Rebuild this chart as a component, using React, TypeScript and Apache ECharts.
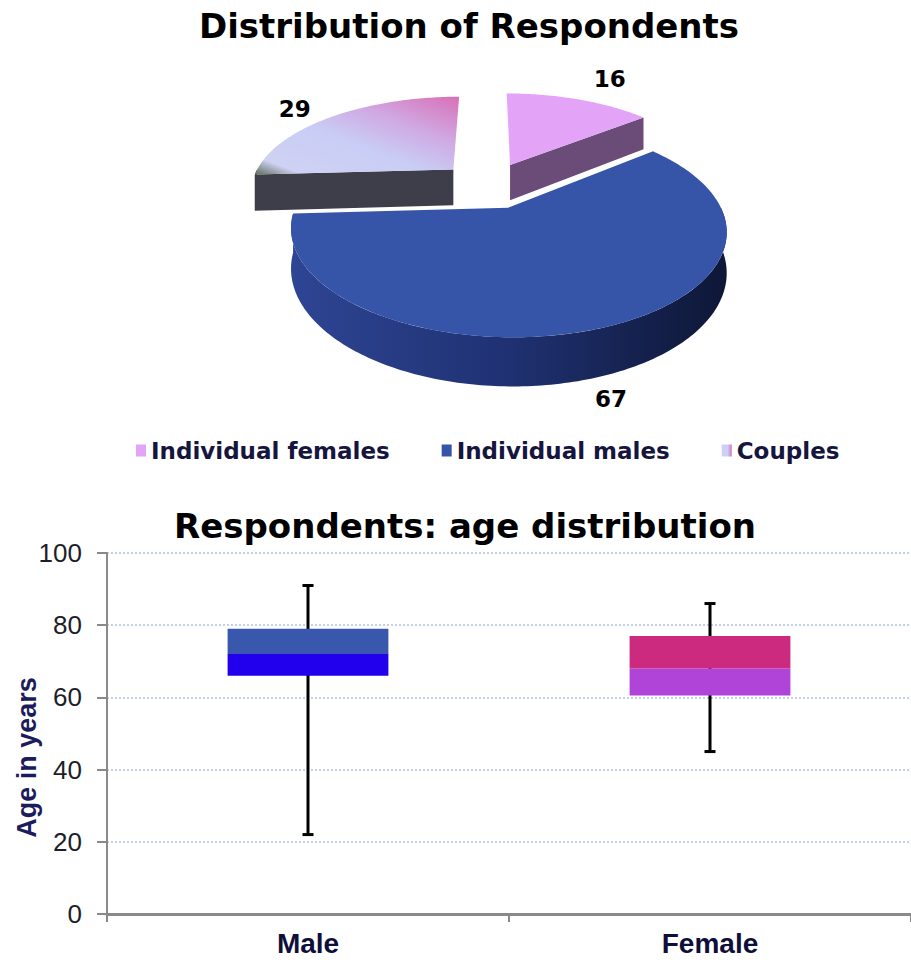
import React, { useEffect, useRef } from 'react';
import * as echarts from 'echarts';

// ---------- data ----------
const pieNames = ['Individual females', 'Individual males', 'Couples'];
const pieValues = [16, 67, 29];

const boxCategories = ['Male', 'Female'];
const boxMin = [22, 45];
const boxQ1 = [66, 60.5];
const boxMedian = [72, 68];
const boxQ3 = [79, 77];
const boxMax = [91, 86];

// ---------- styles ----------
const DEJAVU = '"DejaVu Sans", sans-serif';
const LIB = '"Liberation Sans", Arial, sans-serif';

const PIE = { x0: 489, y0: 185, sx: 203, sy: 93, k: 0.2, depth: 37, explode: 0.25 };

const couplesGradient = {
  type: 'linear', x: 1, y: 0, x2: 0, y2: 1,
  colorStops: [
    { offset: 0, color: '#d870b6' },
    { offset: 0.3, color: '#d0a8e2' },
    { offset: 0.55, color: '#c9ccf5' },
    { offset: 0.88, color: '#cfd2f3' },
    { offset: 1, color: '#5e6b58' },
  ],
};
const malesWallGradient = {
  type: 'linear', x: 0, y: 0, x2: 1, y2: 0,
  colorStops: [
    { offset: 0, color: '#2e4594' },
    { offset: 0.5, color: '#1f3172' },
    { offset: 1, color: '#0e1736' },
  ],
};
const sliceTopFill: any[] = ['#e3a4f7', '#3655a8', couplesGradient];
const sliceWallFill: any[] = ['#6b4c79', malesWallGradient, '#3e3e4b'];
const sliceLegendColor: any[] = [
  '#e3a4f7',
  '#3655a8',
  { type: 'linear', x: 0, y: 0, x2: 1, y2: 0, colorStops: [{ offset: 0, color: '#cdd0f6' }, { offset: 0.6, color: '#cdd0f6' }, { offset: 1, color: '#d070b8' }] },
];
// dx, dy, depth level of the anchor (0 top, 1 bottom)
const sliceLabelOffset = [[31, -21, 0], [4, 24, 1], [-37, -8, 0]];

const boxUpper = ['#3957ad', '#cc2a7e'];
const boxLower = ['#2200ee', '#b044d8'];

// ---------- geometry helpers ----------
const rad = (d: number) => (d * Math.PI) / 180;
function proj(u: number, w: number, z: number): number[] {
  const den = 1 + PIE.k * w;
  return [PIE.x0 + (PIE.sx * u) / den, PIE.y0 - (PIE.sy * w) / den + (PIE.depth * z) / den];
}
function sliceAngles(i: number) {
  const total = pieValues.reduce((a, b) => a + b, 0);
  let cum = 0;
  for (let j = 0; j < i; j++) cum += pieValues[j];
  const a0 = 90 - (cum / total) * 360;
  const a1 = a0 - (pieValues[i] / total) * 360;
  return { a0, a1, mid: (a0 + a1) / 2 };
}
function arcPoints(ou: number, ow: number, from: number, to: number, z: number) {
  const pts: number[][] = [];
  const n = Math.max(2, Math.ceil(Math.abs(to - from)));
  for (let s = 0; s <= n; s++) {
    const t = rad(from + ((to - from) * s) / n);
    pts.push(proj(ou + Math.cos(t), ow + Math.sin(t), z));
  }
  return pts;
}

function pieRender(i: number) {
  return (params: any, api: any) => {
    const value = api.value(0);
    const { a0, a1, mid } = sliceAngles(i);
    const ou = PIE.explode * Math.cos(rad(mid));
    const ow = PIE.explode * Math.sin(rad(mid));
    const children: any[] = [];
    // outer wall (front facing part)
    for (let kk = -1; kk <= 1; kk++) {
      const lo = Math.max(a1, -180 + 360 * kk);
      const hi = Math.min(a0, 0 + 360 * kk);
      if (hi - lo > 0.01) {
        const top = arcPoints(ou, ow, lo, hi, 0);
        const bot = arcPoints(ou, ow, hi, lo, 1);
        children.push({ type: 'polygon', shape: { points: top.concat(bot) }, style: { fill: sliceWallFill[i] } });
      }
    }
    // radial walls
    const edges = [
      { a: a0, n: a0 + 90 },
      { a: a1, n: a1 - 90 },
    ];
    edges.forEach((e) => {
      if (Math.sin(rad(e.n)) < -0.01) {
        const t = rad(e.a);
        const pts = [
          proj(ou, ow, 0),
          proj(ou + Math.cos(t), ow + Math.sin(t), 0),
          proj(ou + Math.cos(t), ow + Math.sin(t), 1),
          proj(ou, ow, 1),
        ];
        children.push({ type: 'polygon', shape: { points: pts }, style: { fill: sliceWallFill[i] } });
      }
    });
    // top face
    const topPts = [proj(ou, ow, 0)].concat(arcPoints(ou, ow, a0, a1, 0));
    children.push({ type: 'polygon', shape: { points: topPts }, style: { fill: sliceTopFill[i] } });
    // label
    const lo = sliceLabelOffset[i];
    const anchor = proj(ou + Math.cos(rad(mid)), ow + Math.sin(rad(mid)), lo[2]);
    children.push({
      type: 'text',
      x: anchor[0] + lo[0],
      y: anchor[1] + lo[1],
      style: {
        text: String(value),
        fill: '#000',
        fontSize: 23,
        fontWeight: 'bold',
        fontFamily: DEJAVU,
        align: 'center',
        verticalAlign: 'middle',
        textAlign: 'center',
        textVerticalAlign: 'middle',
      },
    });
    return { type: 'group', children };
  };
}

function boxRender(params: any, api: any) {
  const i = api.value(0);
  const band = api.size([1, 0])[0];
  const w = band * 0.4;
  const pMax = api.coord([i, api.value(5)]);
  const pQ3 = api.coord([i, api.value(4)]);
  const pMed = api.coord([i, api.value(3)]);
  const pQ1 = api.coord([i, api.value(2)]);
  const pMin = api.coord([i, api.value(1)]);
  const x = pMax[0];
  const cap = 5.5;
  const lineStyle = { stroke: '#000', lineWidth: 3 };
  return {
    type: 'group',
    children: [
      { type: 'line', shape: { x1: x, y1: pMax[1], x2: x, y2: pMin[1] }, style: lineStyle },
      { type: 'line', shape: { x1: x - cap, y1: pMax[1], x2: x + cap, y2: pMax[1] }, style: lineStyle },
      { type: 'line', shape: { x1: x - cap, y1: pMin[1], x2: x + cap, y2: pMin[1] }, style: lineStyle },
      { type: 'rect', shape: { x: x - w / 2, y: pMed[1], width: w, height: pQ1[1] - pMed[1] }, style: { fill: boxLower[i] } },
      { type: 'rect', shape: { x: x - w / 2, y: pQ3[1], width: w, height: pMed[1] - pQ3[1] }, style: { fill: boxUpper[i] } },
    ],
  };
}

export default function App() {
  const ref = useRef<HTMLDivElement>(null);
  useEffect(() => {
    if (!ref.current) return;
    const chart = echarts.init(ref.current, undefined, { renderer: 'svg' });
    const pieSeries = pieNames.map((name, i) => ({
      type: 'custom',
      name,
      coordinateSystem: 'none',
      silent: true,
      z: i === 1 ? 4 : 3,
      itemStyle: { color: sliceLegendColor[i] },
      data: [[pieValues[i]]],
      renderItem: pieRender(i),
    }));
    const boxData = boxCategories.map((_, i) => [i, boxMin[i], boxQ1[i], boxMedian[i], boxQ3[i], boxMax[i]]);
    chart.setOption({
      animation: false,
      backgroundColor: '#ffffff',
      graphic: [
        {
          type: 'text', x: 469, y: 26, silent: true,
          style: { text: 'Distribution of Respondents', fill: '#000', fontSize: 34, fontWeight: 'bold', fontFamily: DEJAVU, align: 'center', verticalAlign: 'middle' },
        },
        {
          type: 'text', x: 465, y: 526, silent: true,
          style: { text: 'Respondents: age distribution', fill: '#000', fontSize: 34, fontWeight: 'bold', fontFamily: DEJAVU, align: 'center', verticalAlign: 'middle' },
        },
      ],
      legend: {
        data: pieNames,
        left: 131,
        top: 434,
        icon: 'rect',
        itemWidth: 10,
        itemHeight: 12,
        itemGap: 52,
        selectedMode: false,
        textStyle: { fontFamily: DEJAVU, fontWeight: 'bold', fontSize: 23, color: '#15153e' },
      },
      grid: { left: 107, right: 0, top: 553, bottom: 48, outerBoundsMode: 'none', containLabel: false },
      xAxis: {
        type: 'category',
        data: boxCategories,
        axisLine: { lineStyle: { color: '#8a8a8a', width: 3 } },
        axisTick: { show: true, length: 8, lineStyle: { color: '#8a8a8a', width: 2 } },
        axisLabel: { fontFamily: LIB, fontWeight: 'bold', fontSize: 28, color: '#0e0e3a', margin: 15 },
      },
      yAxis: {
        type: 'value',
        min: 0,
        max: 100,
        interval: 20,
        name: 'Age in years',
        nameLocation: 'middle',
        nameGap: 67,
        nameMoveOverlap: false,
        nameTextStyle: { fontFamily: LIB, fontWeight: 'bold', fontSize: 27, color: '#1c1c5c', padding: [0, 48, 0, 0] },
        axisLine: { show: true, lineStyle: { color: '#8a8a8a', width: 2 } },
        axisTick: { show: true, length: 10, lineStyle: { color: '#8a8a8a', width: 2 } },
        axisLabel: { fontFamily: LIB, fontSize: 26, color: '#1e1e2a', margin: 25 },
        splitLine: { show: true, lineStyle: { type: 'dotted', color: '#c4cfe8', width: 2 } },
      },
      series: [
        ...pieSeries,
        {
          type: 'custom',
          name: 'age',
          coordinateSystem: 'cartesian2d',
          silent: true,
          encode: { x: 0, y: [1, 2, 3, 4, 5] },
          data: boxData,
          renderItem: boxRender,
        },
      ],
    });
    return () => chart.dispose();
  }, []);
  return <div ref={ref} style={{ position: 'fixed', left: 0, top: 0, width: 911, height: 962, background: '#fff' }} />;
}
